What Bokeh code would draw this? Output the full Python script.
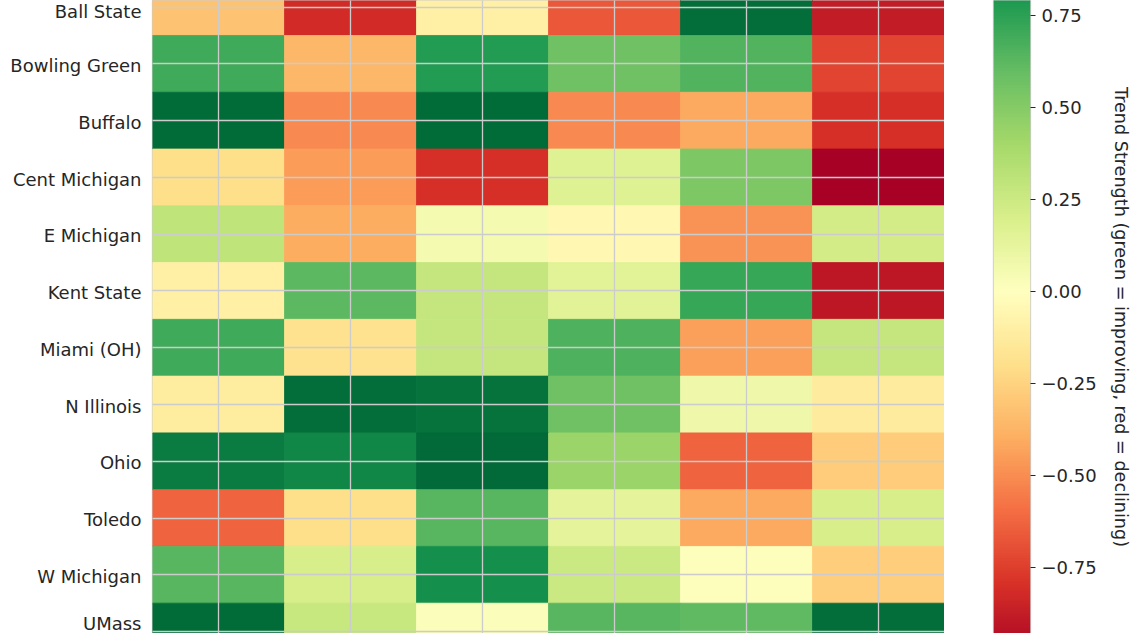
import numpy as np
from bokeh.plotting import figure
from bokeh.models import (Range1d, LinearAxis, FixedTicker, Grid, LinearColorMapper,
                          CustomJSTickFormatter, ColumnDataSource)
from bokeh.transform import transform
from bokeh.layouts import row
from bokeh.embed import file_html
from bokeh.resources import INLINE

# ---------------- data ----------------
teams = ["Ball State", "Bowling Green", "Buffalo", "Cent Michigan", "E Michigan",
         "Kent State", "Miami (OH)", "N Illinois", "Ohio", "Toledo", "W Michigan", "UMass"]
n_cols = 6

ball_state    = [-0.32, -0.82, -0.10, -0.67,  0.97, -0.88]
bowling_green = [ 0.70, -0.36,  0.78,  0.57,  0.65, -0.73]
buffalo       = [ 0.98, -0.51,  0.98, -0.51, -0.41, -0.80]
cent_michigan = [-0.20, -0.45, -0.80,  0.17,  0.53, -0.99]
e_michigan    = [ 0.30, -0.40,  0.06, -0.05, -0.48,  0.22]
kent_state    = [-0.10,  0.62,  0.28,  0.15,  0.72, -0.90]
miami_oh      = [ 0.70, -0.18,  0.28,  0.66, -0.44,  0.28]
n_illinois    = [-0.12,  0.97,  0.95,  0.57,  0.08, -0.13]
ohio          = [ 0.92,  0.87,  0.99,  0.43, -0.63, -0.28]
toledo        = [-0.63, -0.20,  0.64,  0.14, -0.41,  0.21]
w_michigan    = [ 0.64,  0.21,  0.83,  0.25,  0.01, -0.27]
umass         = [ 0.98,  0.27,  0.02,  0.64,  0.61,  0.97]

team_rows = [ball_state, bowling_green, buffalo, cent_michigan, e_michigan, kent_state,
             miami_oh, n_illinois, ohio, toledo, w_michigan, umass]

cb_ticks = [-0.75, -0.5, -0.25, 0.0, 0.25, 0.5, 0.75]
cb_label = "Trend Strength (green = improving, red = declining)"

# ---------------- colour map (RdYlGn) ----------------
stops = ["#a50026", "#d73027", "#f46d43", "#fdae61", "#fee08b", "#ffffbf",
         "#d9ef8b", "#a6d96a", "#66bd63", "#1a9850", "#006837"]
rgb = np.array([[int(s[i:i + 2], 16) for i in (1, 3, 5)] for s in stops], dtype=float)
pos = np.linspace(0, 1, len(stops))
tt = np.linspace(0, 1, 256)
pal = []
for t in tt:
    c = [np.interp(t, pos, rgb[:, k]) for k in range(3)]
    pal.append("#%02x%02x%02x" % tuple(int(round(v)) for v in c))
mapper = LinearColorMapper(palette=pal, low=-1.0, high=1.0)

# ---------------- table ----------------
xs, ys, vals = [], [], []
for i, r in enumerate(team_rows):
    for j, v in enumerate(r):
        xs.append(j + 0.5)
        ys.append(i)
        vals.append(v)
src = ColumnDataSource(dict(x=xs, y=ys, val=vals))

FONT = "DejaVu Sans"
TXT = "#262626"
GRID = "#cccccc"

y_top, y_bot = -0.1165, 11.034
shift = 0.03

p1 = figure(frame_width=792, frame_height=633,
            x_range=Range1d(0, n_cols), y_range=Range1d(y_bot, y_top),
            x_axis_location=None, y_axis_location=None,
            toolbar_location=None, output_backend="svg",
            min_border_left=152, min_border_right=0, min_border_top=0, min_border_bottom=0,
            background_fill_color="white", border_fill_color="white")
p1.center = []
p1.outline_line_color = GRID
p1.outline_line_width = 1.3

p1.rect(x="x", y="y", width=1, height=1, source=src,
        fill_color=transform("val", mapper), line_color=transform("val", mapper),
        line_width=0.8)

xg = Grid(dimension=0, ticker=FixedTicker(ticks=[j + 0.5 for j in range(n_cols)]),
          grid_line_color=GRID, grid_line_width=1.3, level="overlay")
yg = Grid(dimension=1, ticker=FixedTicker(ticks=list(range(len(teams)))),
          grid_line_color=GRID, grid_line_width=1.3, level="overlay")
p1.add_layout(xg, "center")
p1.add_layout(yg, "center")

p1.extra_y_ranges = {"lab": Range1d(y_bot - shift, y_top - shift)}
yax = LinearAxis(y_range_name="lab", ticker=FixedTicker(ticks=list(range(len(teams)))),
                 formatter=CustomJSTickFormatter(args=dict(names=teams),
                                                 code="return names[Math.round(tick)] || '';"),
                 axis_line_color=None, major_tick_line_color=None, minor_tick_line_color=None,
                 major_tick_out=0, major_tick_in=0, minor_tick_out=0, minor_tick_in=0,
                 major_label_standoff=11,
                 major_label_text_font=FONT, major_label_text_font_size="18px",
                 major_label_text_color=TXT)
p1.add_layout(yax, "left")

# ---------------- colour bar ----------------
p2 = figure(frame_width=37, frame_height=633,
            x_range=Range1d(0, 1), y_range=Range1d(-0.929, 0.791),
            x_axis_location=None, y_axis_location="right",
            toolbar_location=None, output_backend="svg",
            min_border_left=49, min_border_right=0, min_border_top=0, min_border_bottom=0,
            background_fill_color="white", border_fill_color="white")
p2.center = []
grad = np.linspace(-1.0, 1.0, 512).reshape(-1, 1)
p2.image(image=[grad], x=0, y=-1.0, dw=1, dh=2.0, color_mapper=mapper)
p2.outline_line_color = GRID
p2.outline_line_width = 1.3
ax2 = p2.yaxis[0]
ax2.ticker = FixedTicker(ticks=cb_ticks)
ax2.formatter = CustomJSTickFormatter(code="return tick.toFixed(2).replace('-', '\u2212');")
ax2.axis_line_color = None
ax2.major_tick_out = 5
ax2.major_tick_in = 0
ax2.major_tick_line_color = TXT
ax2.major_tick_line_width = 1
ax2.minor_tick_line_color = None
ax2.major_label_standoff = 6
ax2.major_label_text_font = FONT
ax2.major_label_text_font_size = "18px"
ax2.major_label_text_color = TXT
ax2.axis_label = cb_label
ax2.axis_label_text_font = FONT
ax2.axis_label_text_font_size = "17.6px"
ax2.axis_label_text_font_style = "normal"
ax2.axis_label_text_color = TXT
ax2.axis_label_standoff = 11

layout = row(p1, p2)
open("out.html", "w").write(file_html(layout, INLINE))
